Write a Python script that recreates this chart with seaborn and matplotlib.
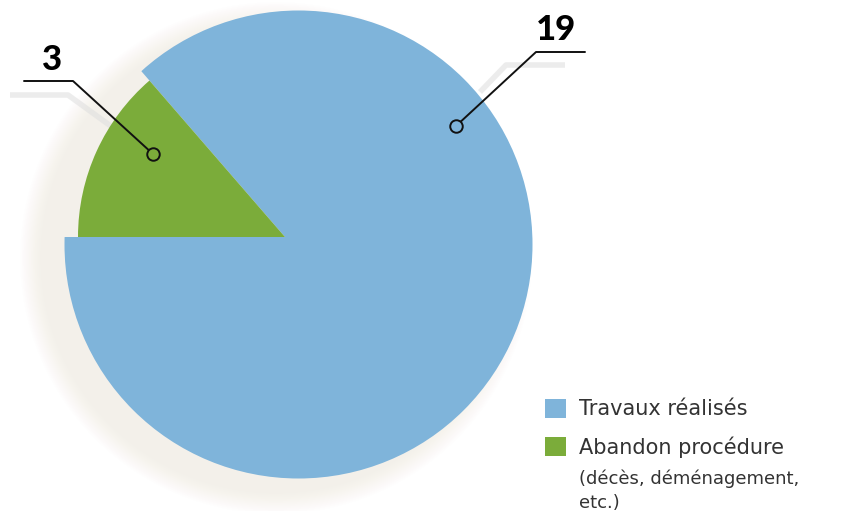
import matplotlib
matplotlib.use("Agg")
import matplotlib.pyplot as plt
from matplotlib.patches import Circle
import seaborn as sns

categories = ["Travaux réalisés", "Abandon procédure"]
values = [19, 3]
value_labels = ["19", "3"]
note = "(décès, déménagement,\netc.)"
colors = ["#7fb4da", "#7bac3a"]

W, H = 856, 511


def Y(y):
    # image pixel row -> data y (y axis points up)
    return H - y


sns.set_style("white")
plt.rcParams["font.family"] = ["DejaVu Sans"]

fig = plt.figure(figsize=(W / 100, H / 100), dpi=100)
ax = fig.add_axes([0, 0, 1, 1])

# soft shadow under the pie (shifted to the lower left)
for i in range(12):
    ax.add_patch(Circle((276, Y(258)), 236 + i * 1.8, color="#ddd0c4",
                        alpha=0.025, lw=0, zorder=0))

apex = (285, Y(237))
wedges, _ = ax.pie(values, colors=colors, startangle=180, counterclock=True,
                   center=apex, radius=300, frame=True,
                   wedgeprops=dict(linewidth=0))
for w in wedges:
    w.set_zorder(2)
# big slice: its rim is a circle slightly offset from the apex
rim = Circle((298.5, Y(244.5)), 234, transform=ax.transData)
wedges[0].set_clip_on(True)
wedges[0].set_clip_path(rim)
wedges[1].set_radius(207)

# leader-line shadows
ax.plot([10, 68, 130], [Y(95), Y(95), Y(140)], color="#dedede", lw=4,
        alpha=0.55, solid_capstyle="butt", zorder=1)
ax.plot([565, 506, 480], [Y(65), Y(65), Y(92)], color="#dedede", lw=4,
        alpha=0.55, solid_capstyle="butt", zorder=1)

# leader lines + value labels
ax.plot([585, 536, 456], [Y(52), Y(52), Y(126)], color="#111111", lw=1.4,
        zorder=5)
ax.plot([456], [Y(126)], marker="o", ms=9, mfc=colors[0], mec="#111111",
        mew=1.4, zorder=6)
ax.plot([24, 73, 153], [Y(81), Y(81), Y(154)], color="#111111", lw=1.4,
        zorder=5)
ax.plot([153], [Y(154)], marker="o", ms=9, mfc=colors[1], mec="#111111",
        mew=1.4, zorder=6)

ax.text(556.5, Y(40), value_labels[0], ha="center", va="baseline",
        fontsize=25, fontweight="black", family=["Lato", "DejaVu Sans"],
        color="#000000", zorder=7)
ax.text(52, Y(70), value_labels[1], ha="center", va="baseline",
        fontsize=25, fontweight="black", family=["Lato", "DejaVu Sans"],
        color="#000000", zorder=7)

leg = ax.legend(wedges, categories, loc="upper left",
                bbox_to_anchor=(545 / W, 1 - 399 / H),
                frameon=False, fontsize=15, borderpad=0, borderaxespad=0,
                handlelength=1.0, handleheight=1.0, handletextpad=0.62,
                labelspacing=0.8)
for t in leg.get_texts():
    t.set_color("#333333")

ax.text(579, Y(508), note, ha="left", va="baseline", fontsize=13,
        color="#333333", linespacing=1.4)

ax.set_xlim(0, W)
ax.set_ylim(0, H)
ax.set_aspect("equal")
ax.axis("off")

fig.savefig("out.png", dpi=100)
